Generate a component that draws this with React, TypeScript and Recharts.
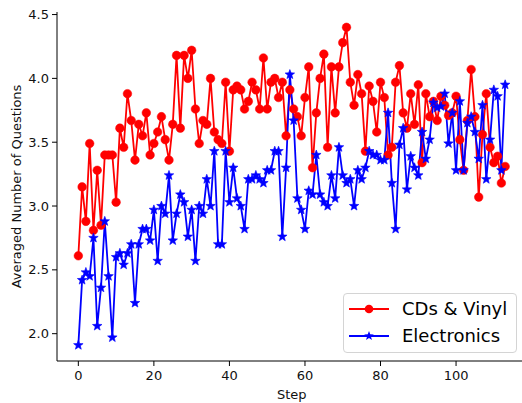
import { LineChart, Line, XAxis, YAxis, Legend } from 'recharts'

const cdsVinyl = [
  2.61, 3.15, 2.88, 3.49, 2.81, 3.28, 2.85, 3.40, 3.40, 3.40,
  3.03, 3.61, 3.46, 3.88, 3.67, 3.36, 3.64, 3.55, 3.73, 3.40,
  3.49, 3.58, 3.70, 3.52, 3.36, 3.64, 4.18, 3.61, 4.18, 4.00,
  4.22, 3.76, 3.49, 3.67, 3.64, 4.00, 3.58, 3.52, 3.49, 3.97,
  3.43, 3.91, 3.94, 3.91, 3.76, 3.82, 3.97, 3.91, 3.76, 4.16,
  3.76, 3.97, 4.00, 3.85, 3.97, 3.55, 3.91, 3.76, 3.70, 3.55,
  3.85, 4.09, 3.30, 3.73, 4.00, 4.19, 3.46, 4.09, 3.73, 4.09,
  4.28, 4.40, 3.97, 3.79, 4.03, 3.88, 3.43, 3.94, 3.82, 3.58,
  3.97, 3.85, 3.40, 3.46, 3.97, 4.10, 3.73, 3.61, 3.88, 3.64,
  3.95, 3.34, 3.88, 3.70, 3.82, 3.67, 3.86, 3.79, 3.71, 3.73,
  3.86, 3.52, 3.28, 3.67, 4.07, 3.70, 3.07, 3.56, 3.88, 3.46,
  3.34, 3.39, 3.18, 3.31,
]

const electronics = [
  1.91, 2.42, 2.48, 2.45, 2.75, 2.06, 2.36, 2.88, 2.45, 1.97,
  2.60, 2.63, 2.54, 2.63, 2.70, 2.24, 2.70, 2.82, 2.82, 2.73,
  2.97, 2.57, 3.00, 2.94, 3.24, 2.73, 2.94, 3.09, 3.03, 2.76,
  2.97, 2.57, 3.00, 2.94, 3.21, 3.00, 3.43, 2.70, 2.70, 3.43,
  3.03, 3.30, 3.06, 3.00, 2.82, 3.21, 3.21, 3.24, 3.21, 3.18,
  3.28, 3.28, 3.43, 3.43, 2.76, 3.30, 4.03, 3.67, 3.06, 2.97,
  2.82, 3.12, 3.09, 3.40, 3.09, 3.03, 3.00, 3.24, 3.06, 3.46,
  3.24, 3.18, 3.21, 3.00, 3.28, 3.21, 3.30, 3.43, 3.40, 3.40,
  3.36, 3.36, 3.73, 3.18, 2.82, 3.48, 3.61, 3.13, 3.39, 3.30,
  3.24, 3.58, 3.37, 3.52, 3.81, 3.77, 3.78, 3.88, 3.49, 3.73,
  3.28, 3.82, 3.28, 3.65, 3.70, 3.58, 3.37, 3.79, 3.21, 3.52,
  3.91, 3.86, 3.28, 3.95,
]

const xTicks = [0, 20, 40, 60, 80, 100]
const yTicks = [2.0, 2.5, 3.0, 3.5, 4.0, 4.5]

const data = cdsVinyl.map((v, i) => ({ step: i, cds: v, elec: electronics[i] }))

const FONT = '"DejaVu Sans", sans-serif'

function starPath(cx: number, cy: number, ro: number, ri: number) {
  let d = ''
  for (let k = 0; k < 10; k++) {
    const r = k % 2 === 0 ? ro : ri
    const a = -Math.PI / 2 + (k * Math.PI) / 5
    d += (k === 0 ? 'M' : 'L') + (cx + r * Math.cos(a)).toFixed(2) + ',' + (cy + r * Math.sin(a)).toFixed(2)
  }
  return d + 'Z'
}

const StarDot = (props: any) => {
  const { cx, cy } = props
  if (cx == null || cy == null) return null
  return <path d={starPath(cx, cy, 5, 2.1)} fill="#0000ff" stroke="#0000ff" strokeWidth={0.6} />
}

const LegendBox = () => (
  <div style={{
    width: 172, height: 57, border: '1px solid #d4d4d4', borderRadius: 4,
    background: 'rgba(255,255,255,0.85)', fontFamily: FONT, fontSize: 18, color: '#000',
    paddingTop: 1, boxSizing: 'content-box',
  }}>
    {[
      { label: 'CDs & Vinyl', color: '#ff0000', star: false },
      { label: 'Electronics', color: '#0000ff', star: true },
    ].map(it => (
      <div key={it.label} style={{ display: 'flex', alignItems: 'center', height: 27 }}>
        <svg width={40} height={14} style={{ marginLeft: 5 }}>
          <line x1={0} y1={7} x2={40} y2={7} stroke={it.color} strokeWidth={1.8} />
          {it.star
            ? <path d={starPath(20, 7, 5, 2.1)} fill={it.color} />
            : <circle cx={20} cy={7} r={4.3} fill={it.color} />}
        </svg>
        <span style={{ marginLeft: 13, lineHeight: '27px' }}>{it.label}</span>
      </div>
    ))}
  </div>
)

export default function App() {
  return (
    <div style={{ position: 'absolute', left: 0, top: 0, width: 522, height: 403, overflow: 'hidden', background: '#fff' }}>
      <LineChart width={530} height={403} data={data} margin={{ top: 12, right: 3.5, bottom: 0, left: 0 }}>
        <XAxis
          dataKey="step"
          type="number"
          domain={[-5.65, 118.65]}
          ticks={xTicks}
          allowDataOverflow
          height={42}
          tickSize={5}
          tickMargin={5}
          stroke="#000"
          tick={{ fill: '#111', fontSize: 13, fontFamily: FONT }}
          label={{ value: 'Step', position: 'insideBottom', offset: 4, fill: '#111', fontSize: 13, fontFamily: FONT }}
        />
        <XAxis
          xAxisId="top"
          orientation="top"
          dataKey="step"
          type="number"
          domain={[-5.65, 118.65]}
          allowDataOverflow
          height={0}
          tick={false}
          tickLine={false}
          stroke="#000"
        />
        <YAxis
          type="number"
          domain={[1.786, 4.52]}
          ticks={yTicks}
          allowDataOverflow
          width={57}
          tickSize={5}
          tickMargin={3}
          stroke="#000"
          tickFormatter={(v: number) => v.toFixed(1)}
          tick={{ fill: '#111', fontSize: 13, fontFamily: FONT }}
          label={{
            value: 'Averaged Number of Questions', angle: -90, position: 'insideLeft', offset: 16,
            style: { textAnchor: 'middle' }, fill: '#111', fontSize: 13, fontFamily: FONT,
          }}
        />
        <Legend
          layout="vertical"
          align="center"
          verticalAlign="middle"
          content={<LegendBox />}
          wrapperStyle={{ left: 343, top: 293, width: 174 }}
        />
        <Line
          dataKey="cds"
          name="CDs & Vinyl"
          stroke="#ff0000"
          strokeWidth={1.8}
          dot={{ r: 4.3, fill: '#ff0000', stroke: '#ff0000', strokeWidth: 0.5 }}
          activeDot={false}
          isAnimationActive={false}
        />
        <Line
          dataKey="elec"
          name="Electronics"
          stroke="#0000ff"
          strokeWidth={1.8}
          dot={<StarDot />}
          activeDot={false}
          isAnimationActive={false}
        />
      </LineChart>
    </div>
  )
}
